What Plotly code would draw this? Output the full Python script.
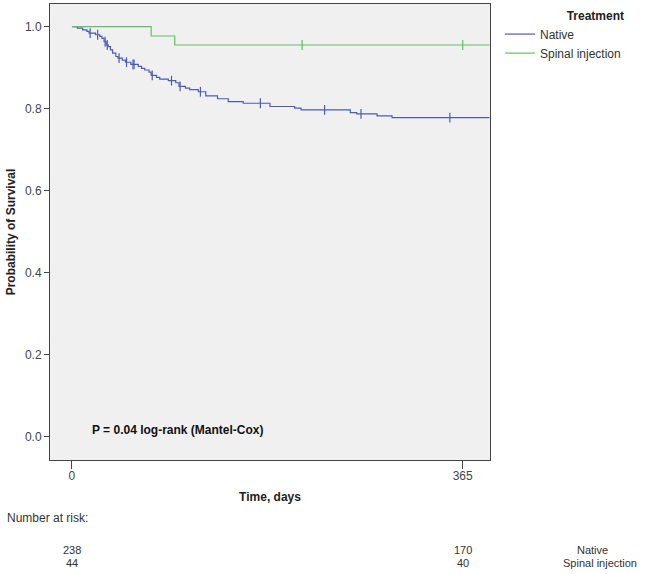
import plotly.graph_objects as go
import numpy as np

# ---- data ----
native_t = [0, 5, 10, 14, 16, 22, 26, 28, 30, 32, 34, 36, 38, 41, 43, 47, 50, 55, 62, 65, 68, 72, 74, 79, 82,
            90, 97, 100, 106, 110, 118, 125, 136, 146, 160, 185, 208, 214, 260, 266, 285, 299, 390]
native_s = [1.000, 0.996, 0.992, 0.988, 0.984, 0.980, 0.976, 0.971, 0.963, 0.955, 0.951, 0.943, 0.935, 0.927,
            0.923, 0.918, 0.913, 0.908, 0.903, 0.898, 0.894, 0.889, 0.881, 0.876, 0.872, 0.868, 0.863, 0.854,
            0.850, 0.846, 0.841, 0.831, 0.824, 0.817, 0.813, 0.805, 0.801, 0.797, 0.790, 0.787, 0.782, 0.778, 0.778]
native_cens = [17, 24, 31, 33, 44, 51, 57, 58, 75, 93, 101, 120, 176, 236, 270, 353]

spinal_t = [0, 74, 96, 390]
spinal_s = [1.000, 0.977, 0.955, 0.955]
spinal_cens = [215, 365]

risk_days = [0, 365]
risk_native = [238, 170]
risk_spinal = [44, 40]
groups = ["Native", "Spinal injection"]

BLUE = "#4a5cb5"
GREEN = "#5cc45c"
FONT = "Liberation Sans, Arial, sans-serif"


def surv_at(ts, ss, t):
    idx = np.searchsorted(ts, t, side="right") - 1
    return ss[idx]


fig = go.Figure()
for name, t, s, cens, col in [("Native", native_t, native_s, native_cens, BLUE),
                              ("Spinal injection", spinal_t, spinal_s, spinal_cens, GREEN)]:
    fig.add_trace(go.Scatter(x=t, y=s, mode="lines", line=dict(shape="hv", color=col, width=1.2),
                             name=name, legendgroup=name))
    fig.add_trace(go.Scatter(x=cens, y=[surv_at(t, s, c) for c in cens], mode="markers",
                             marker=dict(symbol="line-ns-open", size=7, color=col,
                                         line=dict(color=col, width=1.2)),
                             showlegend=False, legendgroup=name, hoverinfo="skip"))

fig.update_layout(
    width=645, height=574,
    margin=dict(l=50, r=155, t=4, b=114),
    plot_bgcolor="#f0f0f0", paper_bgcolor="white",
    font=dict(family=FONT, size=12, color="#333"),
    legend=dict(x=1.0 + 10 / 440, xanchor="left", y=1.0, yanchor="top",
                title=dict(text="<b>Treatment</b>", side="top right", font=dict(size=12, color="#222")),
                font=dict(size=12, color="#333"), bgcolor="rgba(0,0,0,0)", itemwidth=30,
                tracegroupgap=0),
    showlegend=True,
)
fig.update_xaxes(range=[-20.5, 390.5], tickvals=risk_days, ticktext=[str(d) for d in risk_days],
                 showgrid=False, zeroline=False, showline=True, linecolor="#444", linewidth=1, mirror=True,
                 ticks="outside", ticklen=8, tickcolor="#444", tickfont=dict(size=12, color="#444"),
                 ticklabelstandoff=-3,
                 title=dict(text="<b>Time, days</b>", font=dict(size=12, color="#222"), standoff=10))
fig.update_yaxes(range=[-0.057, 1.055], tickvals=[0, 0.2, 0.4, 0.6, 0.8, 1.0], tickformat=".1f",
                 showgrid=False, zeroline=False, showline=True, linecolor="#444", linewidth=1, mirror=True,
                 ticks="outside", ticklen=5, tickcolor="#444", tickfont=dict(size=12, color="#444"),
                 title=dict(text="<b>Probability of Survival</b>", font=dict(size=12, color="#222"), standoff=6))

fig.add_annotation(text="<b>P = 0.04 log-rank (Mantel-Cox)</b>", xref="paper", yref="paper",
                   x=(90 - 50) / 440, y=(460 - 430) / 456, xanchor="left", yanchor="middle",
                   showarrow=False, font=dict(size=12, color="#111"))

fig.add_annotation(text="Number at risk:", xref="paper", yref="paper", x=-50 / 440 + 5 / 440,
                   y=(460 - 518) / 456, xanchor="left", yanchor="middle", showarrow=False,
                   font=dict(size=12, color="#333"))
label_centers = [592, 600]
for row, (vals, gname) in enumerate([(risk_native, groups[0]), (risk_spinal, groups[1])]):
    ypix = 550 + row * 13
    for d, v in zip(risk_days, vals):
        fig.add_annotation(text=str(v), xref="x", yref="paper", x=d, y=(460 - ypix) / 456,
                           xanchor="center", yanchor="middle", showarrow=False,
                           font=dict(size=11, color="#333"))
    fig.add_annotation(text=gname, xref="paper", yref="paper", x=(label_centers[row] - 50) / 440,
                       y=(460 - ypix) / 456, xanchor="center", yanchor="middle", showarrow=False,
                       font=dict(size=11, color="#333"))

fig.write_html("out.html", config={"displayModeBar": False},
               post_script="document.body.style.margin='0px';")
